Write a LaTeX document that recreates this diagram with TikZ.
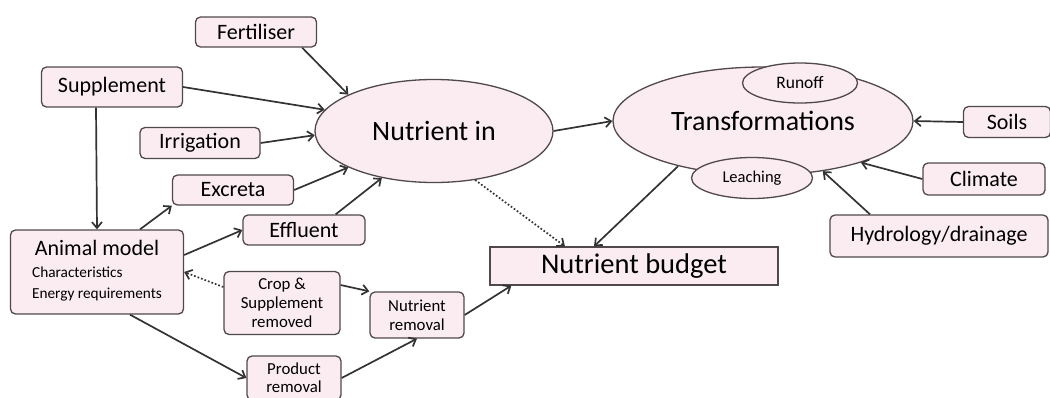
\documentclass[tikz,border=0pt]{standalone}
\usepackage{fontspec}
\setmainfont{Carlito}
\usepackage{tikz}
\usetikzlibrary{arrows,arrows.meta,shapes.geometric}

\definecolor{boxfill}{RGB}{250,236,240}
\definecolor{boxline}{RGB}{80,72,74}

\begin{document}
\begin{tikzpicture}[x=1pt, y=-1pt, >={Straight Barb[length=6pt,width=10pt]},
  box/.style={draw=boxline, fill=boxfill, rounded corners=5pt, line width=1.3pt, inner sep=2pt, font=\fontsize{22}{25}\selectfont},
  smallbox/.style={box, font=\fontsize{16.8}{19}\selectfont, align=center},
  oval/.style={draw=boxline, fill=boxfill, shape=ellipse, line width=1.3pt, inner sep=0pt},
  link/.style={->, line width=1.7pt, draw=black!80}]

\useasboundingbox (0,0) rectangle (1050,397);

\node[box, minimum width=121, minimum height=30] (Fert) at (256,32) {Fertiliser};
\node[box, minimum width=141, minimum height=40] (Supp) at (112,87) {Supplement};
\node[box, minimum width=120, minimum height=31] (Irri) at (200,143) {Irrigation};
\node[box, minimum width=121, minimum height=30] (Excr) at (233,190) {Excreta};
\node[box, minimum width=122, minimum height=30] (Effl) at (304,230) {Effluent};

\node[box, minimum width=173, minimum height=84, inner sep=4pt] (Anim) at (97,272)
  {\begin{tabular}{@{}l@{}}\multicolumn{1}{@{}c@{}}{Animal model}\\[-3pt]
   {\fontsize{15.3}{17}\selectfont Characteristics}\\[-4pt]
   {\fontsize{15.3}{17}\selectfont Energy requirements}\end{tabular}};

\node[smallbox, minimum width=116, minimum height=63] (Crop) at (282,303) {Crop \&\\Supplement\\removed};
\node[smallbox, minimum width=94, minimum height=46] (Nrem) at (417,315) {Nutrient\\removal};
\node[smallbox, minimum width=94, minimum height=44, font=\fontsize{16.8}{18}\selectfont] (Prod) at (294,378) {Product\\removal};

\node[oval, minimum width=238, minimum height=103, font=\fontsize{28}{32}\selectfont] (Nin) at (434,131) {Nutrient in};
\node[oval, minimum width=300, minimum height=108, font=\fontsize{28}{32}\selectfont] (Trans) at (763,121) {Transformations};
\node[oval, minimum width=115, minimum height=40, font=\fontsize{17.5}{20}\selectfont] (Runoff) at (800,83) {Runoff};
\node[oval, minimum width=121, minimum height=41, font=\fontsize{16.5}{19}\selectfont] (Leach) at (752,178) {Leaching};

\node[box, minimum width=87, minimum height=31] (Soils) at (1007,122) {Soils};
\node[box, minimum width=122, minimum height=32] (Clim) at (984,179) {Climate};
\node[box, minimum width=218, minimum height=42] (Hydro) at (939,236) {Hydrology/drainage};

\node[draw=boxline, fill=boxfill, line width=1.3pt, minimum width=288, minimum height=38,
  font=\fontsize{28.5}{32}\selectfont] (Budget) at (634,266) {Nutrient budget};

\draw[link] (Fert.south east) ++(-15,0) to (Nin.157);
\draw[link] (Supp.east) to (Nin.169);
\draw[link] (Irri.east) to (Nin.182);
\draw[link] (Excr.east) to (Nin.203);
\draw[link] (Effl.north east) ++(-30,0) to (Nin.222);
\draw[link] (Supp.south) ++(-16,0) to (Anim.north);
\draw[link] (Anim.north) ++(43,0) to (Excr.south west);
\draw[link] (Anim.east) ++(0,-17) to (Effl.west);
\draw[link, dotted] (Crop.west) ++(0,-16) to (Anim.east);
\draw[link] (Crop.east) ++(0,-18) to (Nrem.north west);
\draw[link] (Anim.south) ++(33,0) to (Prod.west);
\draw[link] (Prod.east) to (Nrem.south);
\draw[link] (Nrem.east) to ([xshift=22pt]Budget.south west);
\draw[link, dotted] (Nin.310) to ([xshift=-69pt]Budget.north);
\draw[link] (Trans.208) to ([xshift=-40pt]Budget.north);
\draw[link] (Nin.east) to (Trans.west);
\draw[link] (Soils.west) to (Trans.east);
\draw[link] (Clim.west) to (Trans.337);
\draw[link] (Hydro.north) ++(-69,0) to (Trans.320);
\end{tikzpicture}
\end{document}
